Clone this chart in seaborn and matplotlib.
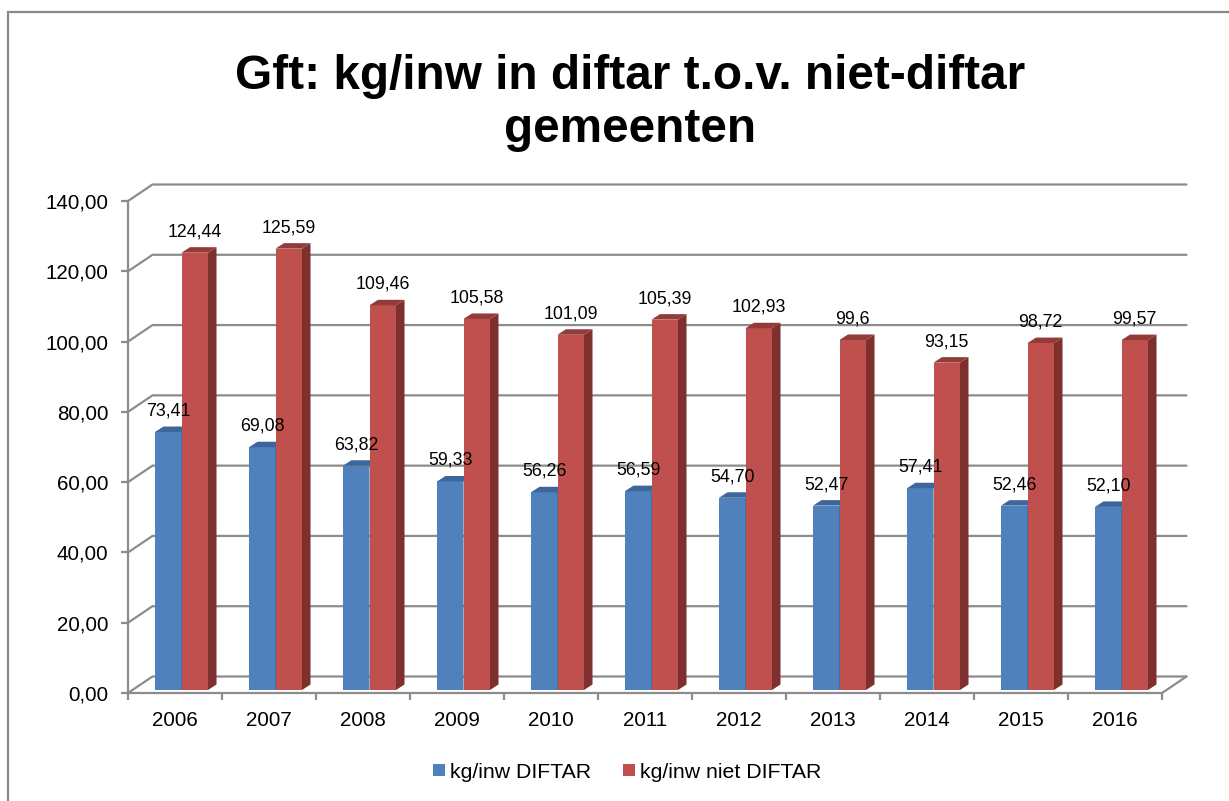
import numpy as np
import pandas as pd
import matplotlib.pyplot as plt
import seaborn as sns
from matplotlib.patches import Polygon, Rectangle, Patch

sns.set_style('white')
plt.rcParams['font.family'] = ['Liberation Sans', 'DejaVu Sans']
plt.rcParams['text.color'] = 'black'
plt.rcParams['xtick.color'] = 'black'
plt.rcParams['ytick.color'] = 'black'
plt.rcParams['xtick.labelcolor'] = 'black'
plt.rcParams['ytick.labelcolor'] = 'black'

# --- data ---
jaren = ['2006', '2007', '2008', '2009', '2010', '2011', '2012', '2013', '2014', '2015', '2016']
diftar = [73.41, 69.08, 63.82, 59.33, 56.26, 56.59, 54.70, 52.47, 57.41, 52.46, 52.10]
niet_diftar = [124.44, 125.59, 109.46, 105.58, 101.09, 105.39, 102.93, 99.6, 93.15, 98.72, 99.57]
reeksen = ['kg/inw DIFTAR', 'kg/inw niet DIFTAR']
y_ticks = [0, 20, 40, 60, 80, 100, 120, 140]
# in de bron staat 99,6 zonder tweede decimaal
label_uitzondering = {99.6: '99,6'}

df = pd.DataFrame({
    'jaar': jaren * 2,
    'waarde': diftar + niet_diftar,
    'reeks': [reeksen[0]] * len(jaren) + [reeksen[1]] * len(jaren),
})

kleur_voor = ['#4F81BD', '#C0504D']
kleur_zij = ['#385D8A', '#7D302E']
kleur_top = ['#3D679A', '#933B38']
grijs = '#8C8C8C'

W, H = 1229, 801
fig = plt.figure(figsize=(W / 100, H / 100), dpi=100)
ax_l, ax_b, ax_w, ax_h = 128, 108, 1034, 492
ax = fig.add_axes([ax_l / W, ax_b / H, ax_w / W, ax_h / H])

sns.barplot(data=df, x='jaar', y='waarde', hue='reeks', palette=kleur_voor,
            width=0.564, gap=0, saturation=1, linewidth=0, legend=False, ax=ax)

ax.set_xlim(-0.5, len(jaren) - 0.5)
ax.set_ylim(0, 140)

# pixel -> data eenheden
ux = len(jaren) / ax_w
uy = 140 / ax_h

# achterwand: rasterlijnen met diagonaal naar de voorkant
bdx, bdy = 24.5 * ux, 16.5 * uy
x0, x1 = -0.5, len(jaren) - 0.5
for t in y_ticks:
    ax.plot([x0, x0 + bdx, x1 + bdx], [t, t + bdy, t + bdy], color=grijs,
            lw=1.6, clip_on=False, zorder=1, solid_joinstyle='miter')
ax.plot([x1, x1 + bdx], [0, bdy], color=grijs, lw=1.6, clip_on=False, zorder=1)

# 3D-effect op de staven
sx, sy = 6.5 * ux, 3 * uy
ddx, ddy = 8.5 * ux, 5.5 * uy
for i, cont in enumerate(ax.containers):
    for bar in cont:
        bar.set_x(bar.get_x() + sx)
        bar.set_y(bar.get_y() + sy)
        bar.set_zorder(2 + i)
        bx, by = bar.get_x(), bar.get_y()
        bw, bh = bar.get_width(), bar.get_height()
        top = by + bh
        zij = Polygon([(bx + bw, by), (bx + bw + ddx, by + ddy),
                       (bx + bw + ddx, top + ddy), (bx + bw, top)],
                      closed=True, facecolor=kleur_zij[i], edgecolor='none',
                      zorder=2 + i, clip_on=False)
        dak = Polygon([(bx, top), (bx + ddx, top + ddy),
                       (bx + bw + ddx, top + ddy), (bx + bw, top)],
                      closed=True, facecolor=kleur_top[i], edgecolor='none',
                      zorder=2 + i, clip_on=False)
        ax.add_patch(zij)
        ax.add_patch(dak)

# data labels
def fmt(v):
    v = round(v, 2)
    return label_uitzondering.get(v, f'{v:.2f}'.replace('.', ','))

for i, cont in enumerate(ax.containers):
    for bar in cont:
        v = bar.get_height()
        ax.annotate(fmt(v), (bar.get_x() + bar.get_width() / 2, bar.get_y() + v),
                    xytext=(0, 9), textcoords='offset points', ha='center',
                    va='bottom', fontsize=12.8, color='black', zorder=5,
                    annotation_clip=False)

# assen
for s in ['top', 'right']:
    ax.spines[s].set_visible(False)
for s in ['left', 'bottom']:
    ax.spines[s].set_color(grijs)
    ax.spines[s].set_linewidth(1.6)
    ax.spines[s].set_zorder(1.5)

ax.set_yticks(y_ticks)
ax.set_yticklabels([f'{t:.2f}'.replace('.', ',') for t in y_ticks])
ax.set_xticks(range(len(jaren)))
ax.set_xticklabels(jaren)
ax.set_xticks(np.arange(-0.5, len(jaren)), minor=True)
ax.tick_params(axis='y', length=5, width=1.6, color=grijs, labelcolor='black',
               pad=9, labelsize=14.8, left=True)
ax.tick_params(axis='x', which='major', length=0, pad=13, labelsize=14.8,
               labelcolor='black')
ax.tick_params(axis='x', which='minor', length=5, width=1.6, color=grijs,
               bottom=True)
ax.set_xlabel('')
ax.set_ylabel('')
ax.grid(False)

# titel
fig.text(630 / W, 1 - 89 / H, 'Gft: kg/inw in diftar t.o.v. niet-diftar',
         ha='center', va='baseline', fontsize=34.4, fontweight='bold', color='black')
fig.text(630 / W, 1 - 142 / H, 'gemeenten',
         ha='center', va='baseline', fontsize=34.4, fontweight='bold', color='black')

# legenda
handles = [Patch(facecolor=c, edgecolor='none') for c in kleur_voor]
leg = fig.legend(handles, reeksen, loc='center', bbox_to_anchor=(627 / W, 1 - 772 / H),
                 ncol=2, frameon=False, fontsize=15.3, handlelength=0.55,
                 handleheight=0.55, handletextpad=0.25, columnspacing=1.5)
for txt in leg.get_texts():
    txt.set_color('black')

# kader rond de grafiek
fig.patches.append(Rectangle((8 / W, -0.1), 1.2, (H - 12) / H + 0.1,
                             transform=fig.transFigure, fill=False,
                             edgecolor='#898989', linewidth=1.6))

plt.savefig('out.png', dpi=100)
